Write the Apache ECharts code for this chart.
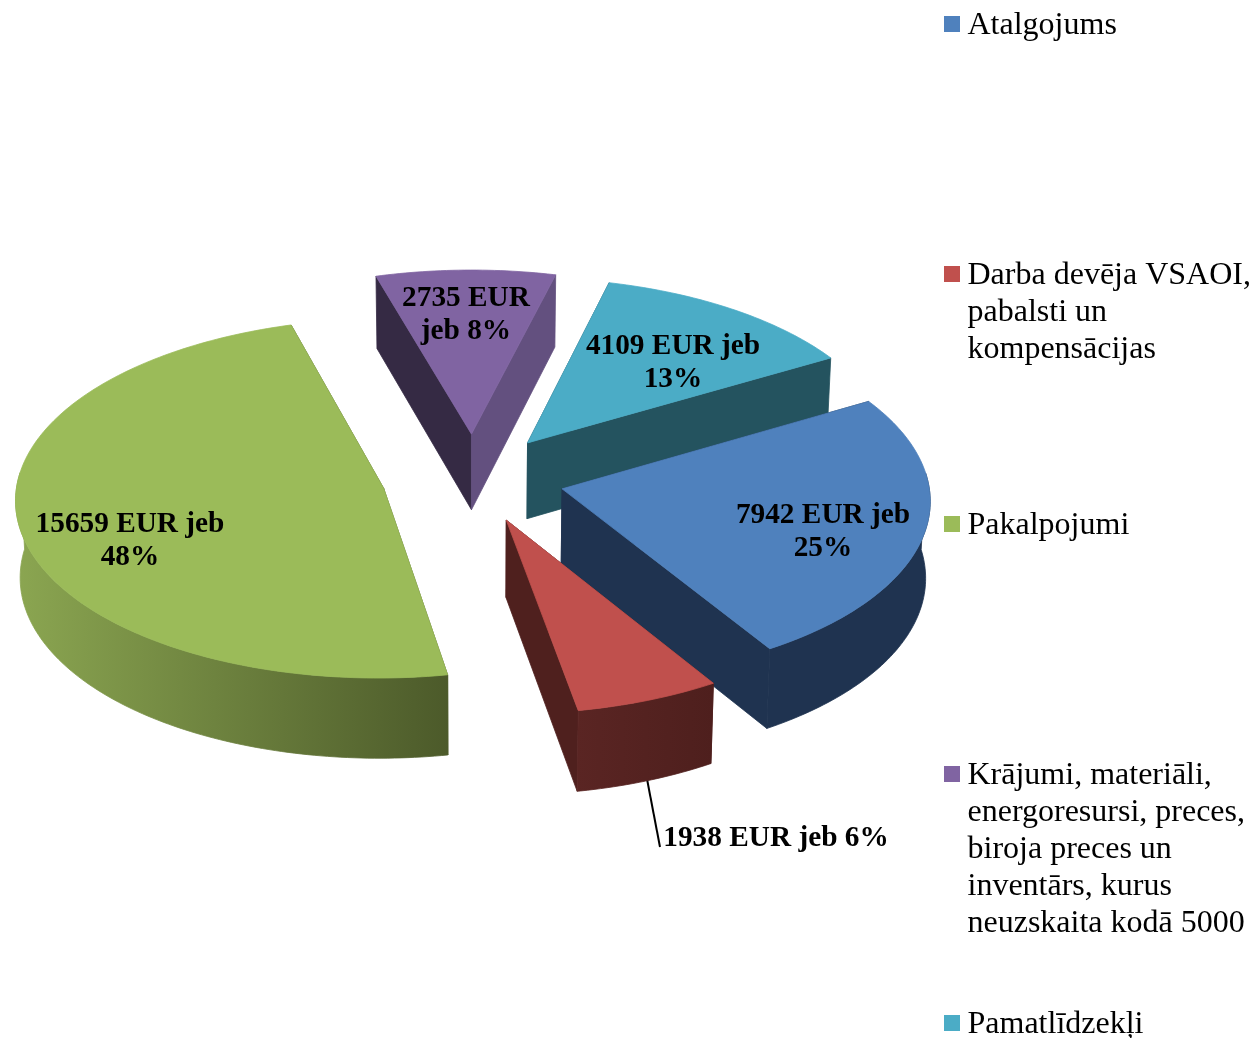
<!DOCTYPE html>
<html>
<head>
<meta charset="utf-8">
<title>Izdevumi</title>
<script src="https://cdn.jsdelivr.net/npm/echarts@6/dist/echarts.min.js"></script>
<style>
    html, body { margin: 0; padding: 0; background: #fff; }
    #chart { width: 1254px; height: 1038px; }
</style>
</head>
<body>
<div id="chart"></div>
<script>
// data
const categories = [
    'Atalgojums',
    'Darba devēja VSAOI,\npabalsti un\nkompensācijas',
    'Pakalpojumi',
    'Krājumi, materiāli,\nenergoresursi, preces,\nbiroja preces un\ninventārs, kurus\nneuzskaita kodā 5000',
    'Pamatlīdzekļi'
]
const amounts = [7942, 1938, 15659, 2735, 4109]
const labelTexts = [
    '7942 EUR jeb\n25%',
    '1938 EUR jeb 6%',
    '15659 EUR jeb\n48%',
    '2735 EUR\njeb 8%',
    '4109 EUR jeb\n13%'
]

// colours: top face, cut faces (start, end), rim gradient (left, right)
const topColors = ['#4f81bd', '#c0504d', '#9bbb59', '#8064a2', '#4bacc6']
const startCutColors = ['#1f3350', '#4f201e', '#4f5e2a', '#352a44', '#24535f']
const endCutColors = ['#1f3350', '#4f201e', '#4f5e2a', '#63507f', '#24535f']
const rimColors = [
    ['#1f3350', '#1f3350'],
    ['#5a2523', '#4e1f1d'],
    ['#8ba651', '#4c5a2a'],
    ['#352a44', '#63507f'],
    ['#24535f', '#24535f']
]

// layout
const firstSliceAngle = 59.9
const explode = 0.25
const centerX = 473
const centerY = 478
const radiusX = 366
const radiusY = 178
const perspective = 0.056
const labelCenters = [[823, 532], [776, 838], [130, 541], [466, 315], [673, 363]]
const leaderEnd = [660, 847]
const labelFont = '"Liberation Serif", "Times New Roman", serif'
const drawOrder = [3, 4, 0, 2, 1] // back to front

const total = amounts.reduce((a, b) => a + b, 0)

// slice angles, clockwise from north
const sliceAngles = []
let running = 0
amounts.forEach(v => {
    const start = echarts.number.linearMap(running, [0, total], [0, 360]) + firstSliceAngle
    running += v
    const end = echarts.number.linearMap(running, [0, total], [0, 360]) + firstSliceAngle
    sliceAngles.push([start, end])
})

function rad (deg) {
    return deg * Math.PI / 180
}

// unit disc to screen, z = 0 is the top face and z = 1 the bottom face
function project (x, y, z) {
    const s = 1 / (1 - perspective * y)
    const shrink = 1 - 0.01 * z
    return [
        centerX + radiusX * x * s * shrink,
        centerY + radiusY * y * s + z * (76.5 + 3.5 * y)
    ]
}

function slicePoint (i, deg, r, z) {
    const mid = rad((sliceAngles[i][0] + sliceAngles[i][1]) / 2)
    const a = rad(deg)
    const x = explode * Math.sin(mid) + r * Math.sin(a)
    const y = -explode * Math.cos(mid) - r * Math.cos(a)
    return project(x, y, z)
}

// faces get a thin stroke of their own colour so no seam shows between them
function polygon (points, fill) {
    return {
        type: 'polygon',
        shape: { points: points },
        style: { fill: fill, stroke: fill, lineWidth: 0.8 }
    }
}

function renderSlice (params, api) {
    const i = api.value(0)
    const [start, end] = sliceAngles[i]
    const children = []

    // leader line for the label that sits outside its slice
    if (i === 1) {
        const mid = (start + end) / 2
        const from = slicePoint(i, mid, 1, 1)
        children.push({
            type: 'line',
            shape: { x1: from[0], y1: from[1] - 2, x2: leaderEnd[0], y2: leaderEnd[1] },
            style: { stroke: '#000', lineWidth: 2 }
        })
    }

    // cut faces
    children.push(polygon([
        slicePoint(i, start, 0, 0), slicePoint(i, start, 1, 0),
        slicePoint(i, start, 1, 1), slicePoint(i, start, 0, 1)
    ], startCutColors[i]))
    children.push(polygon([
        slicePoint(i, end, 0, 0), slicePoint(i, end, 1, 0),
        slicePoint(i, end, 1, 1), slicePoint(i, end, 0, 1)
    ], endCutColors[i]))

    // outer rim, only the part turned to the viewer
    const rimStart = Math.max(start, 85)
    const rimEnd = Math.min(end, 275)
    if (rimEnd > rimStart) {
        const upper = []
        const lower = []
        for (let a = rimStart; a < rimEnd; a += 1) {
            upper.push(slicePoint(i, a, 1, 0))
            lower.unshift(slicePoint(i, a, 1, 1))
        }
        upper.push(slicePoint(i, rimEnd, 1, 0))
        lower.unshift(slicePoint(i, rimEnd, 1, 1))
        children.push(polygon(upper.concat(lower), new echarts.graphic.LinearGradient(0, 0, 1, 0, [
            { offset: 0, color: rimColors[i][0] },
            { offset: 1, color: rimColors[i][1] }
        ])))
    }

    // top face
    const top = [slicePoint(i, start, 0, 0)]
    for (let a = start; a < end; a += 1) {
        top.push(slicePoint(i, a, 1, 0))
    }
    top.push(slicePoint(i, end, 1, 0))
    children.push(polygon(top, topColors[i]))

    // label
    children.push({
        type: 'text',
        x: labelCenters[i][0],
        y: labelCenters[i][1],
        style: {
            text: labelTexts[i],
            fill: '#000',
            font: 'bold 29.3px ' + labelFont,
            lineHeight: 33,
            align: 'center',
            verticalAlign: 'middle'
        }
    })

    return { type: 'group', children: children }
}

// legend, one block per category with the marker on its first line
const legendTop = [24, 274, 524, 774, 1023]
const legendGraphics = []
categories.forEach((name, i) => {
    legendGraphics.push({
        type: 'rect',
        shape: { x: 944, y: legendTop[i] - 8, width: 16, height: 16 },
        style: { fill: topColors[i] }
    })
    legendGraphics.push({
        type: 'text',
        x: 967.5,
        y: legendTop[i] - 16.5,
        style: {
            text: name,
            fill: '#000',
            font: '32px ' + labelFont,
            lineHeight: 37,
            align: 'left',
            verticalAlign: 'top'
        }
    })
})

const chart = echarts.init(document.getElementById('chart'), null, { renderer: 'canvas' })
chart.setOption({
    animation: false,
    backgroundColor: '#fff',
    tooltip: { show: false },
    graphic: legendGraphics,
    series: [
        {
            type: 'custom',
            coordinateSystem: 'none',
            silent: true,
            renderItem: renderSlice,
            encode: { value: 1 },
            data: drawOrder.map(i => [i, amounts[i]])
        }
    ]
})
</script>
</body>
</html>
